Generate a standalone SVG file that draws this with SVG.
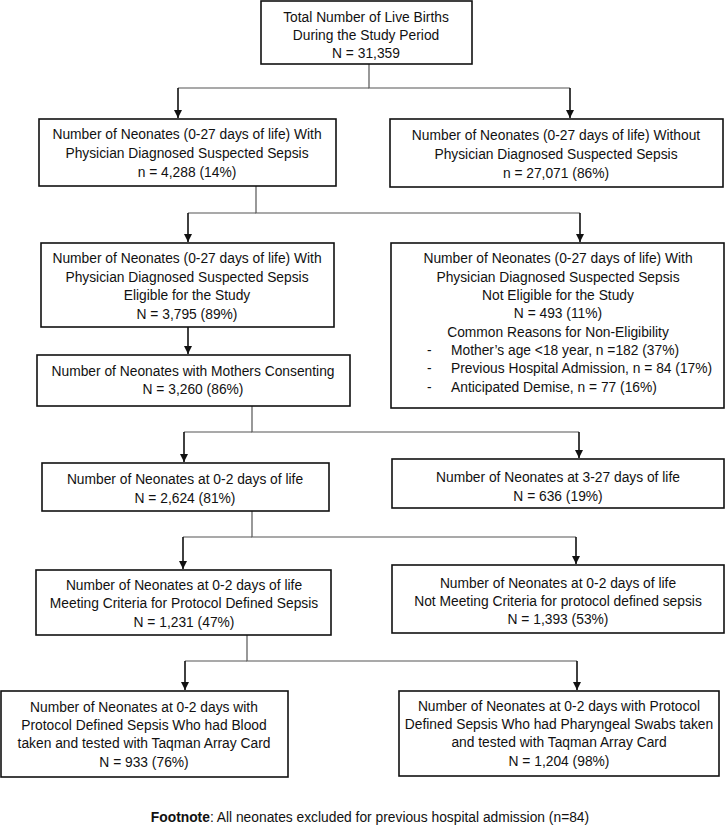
<svg xmlns="http://www.w3.org/2000/svg" width="726" height="839" viewBox="0 0 726 839">
<defs>
<style>
.box{fill:#fff;stroke:#111;stroke-width:1.6}
.t{font-family:"Liberation Sans",Arial,sans-serif;font-size:13.8px;fill:#111;text-anchor:middle;dominant-baseline:central}
.l{font-family:"Liberation Sans",Arial,sans-serif;font-size:13.8px;fill:#111;dominant-baseline:central}
.c{fill:none;stroke:#555;stroke-width:1.2}
.a{fill:none;stroke:#111;stroke-width:1.6;marker-end:url(#ah)}
</style>
<marker id="ah" viewBox="0 0 8 8" refX="8" refY="4" markerWidth="8" markerHeight="8" markerUnits="userSpaceOnUse" orient="auto">
<path d="M0,0 L8,4 L0,8 Z" fill="#111"/>
</marker>
</defs>
<rect width="726" height="839" fill="#fff"/>
<g id="connectors">
<path class="c" d="M369,64 V88 H570"/>
<path class="c" d="M369,88 H178"/>
<path class="a" d="M178,88 V118"/>
<path class="a" d="M570,88 V118"/>
<path class="c" d="M256,186 V213 H580"/>
<path class="c" d="M256,213 H188"/>
<path class="a" d="M188,213 V242"/>
<path class="a" d="M580,213 V242"/>
<path class="a" d="M188,327 V354"/>
<path class="c" d="M252,406 V432 H579"/>
<path class="c" d="M252,432 H184"/>
<path class="a" d="M184,432 V462"/>
<path class="a" d="M579,432 V458"/>
<path class="c" d="M252,511 V537 H576"/>
<path class="c" d="M252,537 H183"/>
<path class="a" d="M183,537 V569"/>
<path class="a" d="M576,537 V564"/>
<path class="c" d="M247,635 V661 H577"/>
<path class="c" d="M247,661 H185"/>
<path class="a" d="M185,661 V690"/>
<path class="a" d="M577,661 V690"/>
</g>
<g id="n_total">
<rect class="box" x="261" y="1" width="211" height="63"/>
<text class="t" x="366" y="17">Total Number of Live Births</text>
<text class="t" x="366" y="35">During the Study Period</text>
<text class="t" x="366" y="53">N = 31,359</text>
</g>
<g id="n_with">
<rect class="box" x="39" y="119" width="297" height="67"/>
<text class="t" x="187" y="134">Number of Neonates (0-27 days of life) With</text>
<text class="t" x="187" y="153">Physician Diagnosed Suspected Sepsis</text>
<text class="t" x="187" y="172">n = 4,288 (14%)</text>
</g>
<g id="n_without">
<rect class="box" x="390" y="119" width="333" height="68"/>
<text class="t" x="556" y="135">Number of Neonates (0-27 days of life) Without</text>
<text class="t" x="556" y="154">Physician Diagnosed Suspected Sepsis</text>
<text class="t" x="556" y="173">n = 27,071 (86%)</text>
</g>
<g id="n_eligible">
<rect class="box" x="41" y="243" width="293" height="84"/>
<text class="t" x="187" y="258">Number of Neonates (0-27 days of life) With</text>
<text class="t" x="187" y="277">Physician Diagnosed Suspected Sepsis</text>
<text class="t" x="187" y="295">Eligible for the Study</text>
<text class="t" x="187" y="314">N = 3,795 (89%)</text>
</g>
<g id="n_noteligible">
<rect class="box" x="391" y="243" width="333" height="165"/>
<text class="t" x="558" y="258">Number of Neonates (0-27 days of life) With</text>
<text class="t" x="558" y="277">Physician Diagnosed Suspected Sepsis</text>
<text class="t" x="558" y="295">Not Eligible for the Study</text>
<text class="t" x="558" y="313">N = 493 (11%)</text>
<text class="t" x="558" y="332">Common Reasons for Non-Eligibility</text>
<text class="l" x="427" y="350">-</text>
<text class="l" x="451" y="350">Mother’s age &lt;18 year, n =182 (37%)</text>
<text class="l" x="427" y="368">-</text>
<text class="l" x="451" y="368">Previous Hospital Admission, n = 84 (17%)</text>
<text class="l" x="427" y="387">-</text>
<text class="l" x="451" y="387">Anticipated Demise, n = 77 (16%)</text>
</g>
<g id="n_consent">
<rect class="box" x="37" y="355" width="313" height="51"/>
<text class="t" x="193" y="371">Number of Neonates with Mothers Consenting</text>
<text class="t" x="193" y="389">N = 3,260 (86%)</text>
</g>
<g id="n_02">
<rect class="box" x="42" y="463" width="287" height="48"/>
<text class="t" x="185" y="479">Number of Neonates at 0-2 days of life</text>
<text class="t" x="185" y="498">N = 2,624 (81%)</text>
</g>
<g id="n_327">
<rect class="box" x="392" y="459" width="332" height="49"/>
<text class="t" x="558" y="477">Number of Neonates at 3-27 days of life</text>
<text class="t" x="558" y="496">N = 636 (19%)</text>
</g>
<g id="n_meet">
<rect class="box" x="36" y="570" width="295" height="65"/>
<text class="t" x="184" y="585">Number of Neonates at 0-2 days of life</text>
<text class="t" x="184" y="603">Meeting Criteria for Protocol Defined Sepsis</text>
<text class="t" x="184" y="622">N = 1,231 (47%)</text>
</g>
<g id="n_notmeet">
<rect class="box" x="392" y="565" width="332" height="68"/>
<text class="t" x="558" y="583">Number of Neonates at 0-2 days of life</text>
<text class="t" x="558" y="601">Not Meeting Criteria for protocol defined sepsis</text>
<text class="t" x="558" y="619">N = 1,393 (53%)</text>
</g>
<g id="n_blood">
<rect class="box" x="1" y="691" width="287" height="86"/>
<text class="t" x="144" y="707">Number of Neonates at 0-2 days with</text>
<text class="t" x="144" y="725">Protocol Defined Sepsis Who had Blood</text>
<text class="t" x="144" y="743">taken and tested with Taqman Array Card</text>
<text class="t" x="144" y="762">N = 933 (76%)</text>
</g>
<g id="n_swab">
<rect class="box" x="399" y="691" width="320" height="85"/>
<text class="t" x="559" y="706">Number of Neonates at 0-2 days with Protocol</text>
<text class="t" x="559" y="724">Defined Sepsis Who had Pharyngeal Swabs taken</text>
<text class="t" x="559" y="742">and tested with Taqman Array Card</text>
<text class="t" x="559" y="761">N = 1,204 (98%)</text>
</g>
<g id="footnote">
<text class="t" x="370" y="817"><tspan font-weight="bold">Footnote</tspan>: All neonates excluded for previous hospital admission (n=84)</text>
</g>
</svg>
